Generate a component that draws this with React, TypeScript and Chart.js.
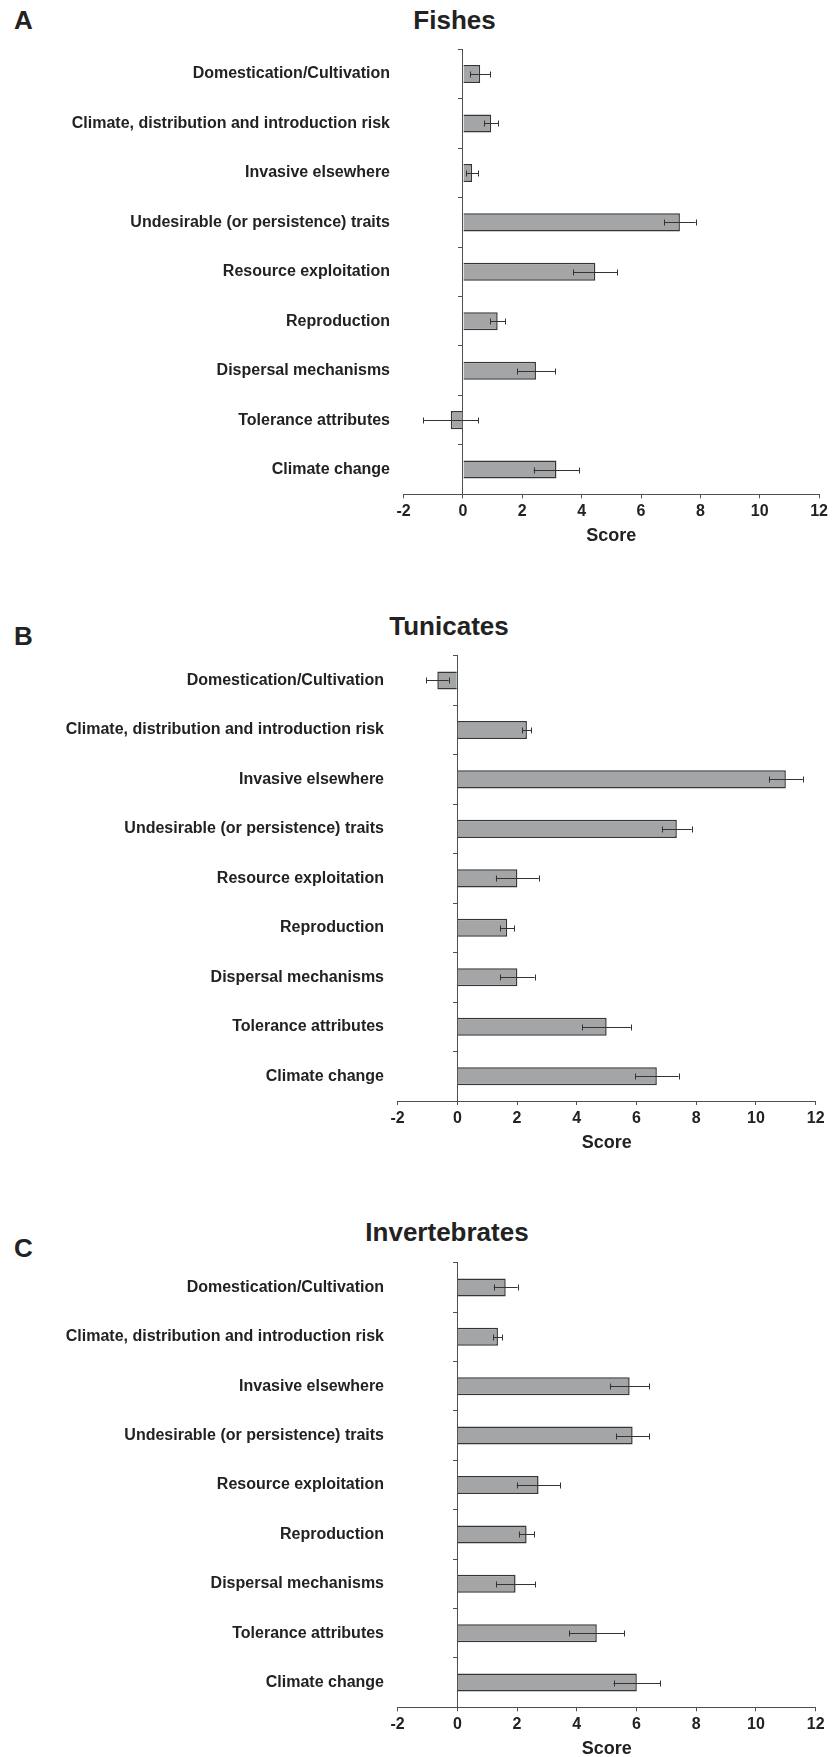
import React, { useEffect, useRef } from 'react';
import { Chart, registerables } from 'chart.js';

Chart.register(...registerables);

if (typeof document !== 'undefined') {
  document.body.style.margin = '0';
}

const FONT = "'Liberation Sans', Arial, Helvetica, sans-serif";
Chart.defaults.font.family = FONT;

// ---------- data ----------
const categories = [
  'Domestication/Cultivation',
  'Climate, distribution and introduction risk',
  'Invasive elsewhere',
  'Undesirable (or persistence) traits',
  'Resource exploitation',
  'Reproduction',
  'Dispersal mechanisms',
  'Tolerance attributes',
  'Climate change',
];

const xMin = -2;
const xMax = 12;
const xStep = 2;
const axisTitle = 'Score';

const fishesValues = [0.58, 0.95, 0.31, 7.31, 4.46, 1.17, 2.46, -0.41, 3.15];
const fishesErrors = [0.33, 0.23, 0.2, 0.53, 0.74, 0.25, 0.64, 0.92, 0.77];

const tunicatesValues = [-0.67, 2.33, 11.0, 7.35, 2.01, 1.67, 2.01, 5.0, 6.68];
const tunicatesErrors = [0.38, 0.15, 0.57, 0.5, 0.72, 0.24, 0.58, 0.81, 0.73];

const invertebratesValues = [1.62, 1.36, 5.77, 5.87, 2.72, 2.32, 1.95, 4.67, 6.01];
const invertebratesErrors = [0.4, 0.15, 0.66, 0.55, 0.73, 0.26, 0.65, 0.92, 0.78];

// ---------- styles ----------
const TEXT = '#222222';
const AXIS = '#505050';
const BAR_FILL = '#a4a5a7';
const BAR_BORDER = '#353535';
const ERR = '#333333';
const X_H = 48;

const errorBarPlugin = {
  id: 'errorBars',
  afterDatasetsDraw(chart: any, _args: any, opts: any) {
    const errs: number[] = opts.errors || [];
    const ctx = chart.ctx;
    const xs = chart.scales.x;
    chart.data.datasets.forEach((ds: any, di: number) => {
      const meta = chart.getDatasetMeta(di);
      meta.data.forEach((bar: any, i: number) => {
        const v = ds.data[i];
        const e = errs[i];
        if (e == null) return;
        const x1 = xs.getPixelForValue(v - e);
        const x2 = xs.getPixelForValue(v + e);
        const y = Math.round(bar.y) + 0.5;
        const c = 3;
        ctx.save();
        ctx.strokeStyle = ERR;
        ctx.lineWidth = 1;
        ctx.beginPath();
        ctx.moveTo(x1, y);
        ctx.lineTo(x2, y);
        ctx.moveTo(Math.round(x1) + 0.5, y - c);
        ctx.lineTo(Math.round(x1) + 0.5, y + c);
        ctx.moveTo(Math.round(x2) + 0.5, y - c);
        ctx.lineTo(Math.round(x2) + 0.5, y + c);
        ctx.stroke();
        ctx.restore();
      });
    });
  },
};

type Area = { left: number; right: number; top: number; bottom: number };

function Panel(props: {
  top: number;
  height: number;
  area: Area;
  labelRight: number;
  values: number[];
  errors: number[];
}) {
  const ref = useRef<HTMLCanvasElement>(null);
  const { top, height, area, labelRight, values, errors } = props;

  useEffect(() => {
    if (!ref.current) return;
    const chart = new Chart(ref.current, {
      type: 'bar',
      data: {
        labels: categories,
        datasets: [
          {
            data: values,
            backgroundColor: BAR_FILL,
            borderColor: BAR_BORDER,
            borderWidth: 1.5,
            categoryPercentage: 1,
            barPercentage: 0.365,
          },
        ],
      },
      options: {
        indexAxis: 'y',
        responsive: false,
        animation: false,
        events: [],
        layout: {
          padding: {
            top: area.top,
            right: 832 - area.right,
            bottom: height - area.bottom - X_H,
            left: 0,
          },
        },
        plugins: {
          legend: { display: false },
          title: { display: false },
          tooltip: { enabled: false },
          errorBars: { errors },
        } as any,
        scales: {
          x: {
            type: 'linear',
            min: xMin,
            max: xMax,
            ticks: {
              stepSize: xStep,
              color: TEXT,
              font: { size: 16, weight: 'bold' },
              padding: 4,
              maxRotation: 0,
            },
            grid: {
              drawOnChartArea: false,
              drawTicks: true,
              tickLength: 4,
              color: AXIS,
            },
            border: { display: true, color: AXIS, width: 1 },
            title: {
              display: true,
              text: axisTitle,
              color: TEXT,
              font: { size: 18, weight: 'bold' },
              padding: { top: 0, bottom: -5 },
            },
            afterFit: (s: any) => {
              s.height = X_H;
            },
          },
          y: {
            type: 'category',
            position: 'left',
            grid: { display: false, drawTicks: false },
            border: { display: false },
            ticks: {
              color: TEXT,
              font: { size: 16, weight: 'bold' },
              padding: area.left - labelRight,
              autoSkip: false,
            },
            afterFit: (s: any) => {
              s.width = area.left;
            },
          },
          y2: {
            type: 'category',
            axis: 'y',
            position: { x: 0 },
            offset: true,
            grid: {
              offset: true,
              drawOnChartArea: false,
              drawTicks: true,
              tickLength: 4,
              color: AXIS,
            },
            border: { display: true, color: AXIS, width: 1 },
            ticks: { display: false },
          },
        } as any,
      } as any,
      plugins: [errorBarPlugin],
    });
    return () => chart.destroy();
  }, []);

  return (
    <canvas
      ref={ref}
      width={832}
      height={height}
      style={{ position: 'absolute', left: 0, top, width: 832, height }}
    />
  );
}

function Label(props: { text: string; cx?: number; left?: number; top: number }) {
  const style: React.CSSProperties = {
    position: 'absolute',
    top: props.top,
    fontFamily: FONT,
    fontWeight: 'bold',
    fontSize: 26,
    lineHeight: '26px',
    color: TEXT,
    whiteSpace: 'nowrap',
  };
  if (props.cx != null) {
    style.left = props.cx - 150;
    style.width = 300;
    style.textAlign = 'center';
  } else {
    style.left = props.left;
  }
  return <div style={style}>{props.text}</div>;
}

export default function App() {
  return (
    <div
      style={{
        position: 'relative',
        width: 832,
        height: 1757,
        overflow: 'hidden',
        background: '#ffffff',
      }}
    >
      <Label text="A" left={14} top={7} />
      <Label text="Fishes" cx={454.5} top={7} />
      <Panel
        top={0}
        height={560}
        area={{ left: 403.6, right: 821.7, top: 49.3, bottom: 494.3 }}
        labelRight={390}
        values={fishesValues}
        errors={fishesErrors}
      />

      <Label text="B" left={14} top={623} />
      <Label text="Tunicates" cx={449} top={613} />
      <Panel
        top={580}
        height={580}
        area={{ left: 397.6, right: 815.7, top: 75.7, bottom: 521 }}
        labelRight={384}
        values={tunicatesValues}
        errors={tunicatesErrors}
      />

      <Label text="C" left={14} top={1235} />
      <Label text="Invertebrates" cx={447} top={1219} />
      <Panel
        top={1180}
        height={577}
        area={{ left: 397.6, right: 815.7, top: 82.7, bottom: 527.3 }}
        labelRight={384}
        values={invertebratesValues}
        errors={invertebratesErrors}
      />
    </div>
  );
}
